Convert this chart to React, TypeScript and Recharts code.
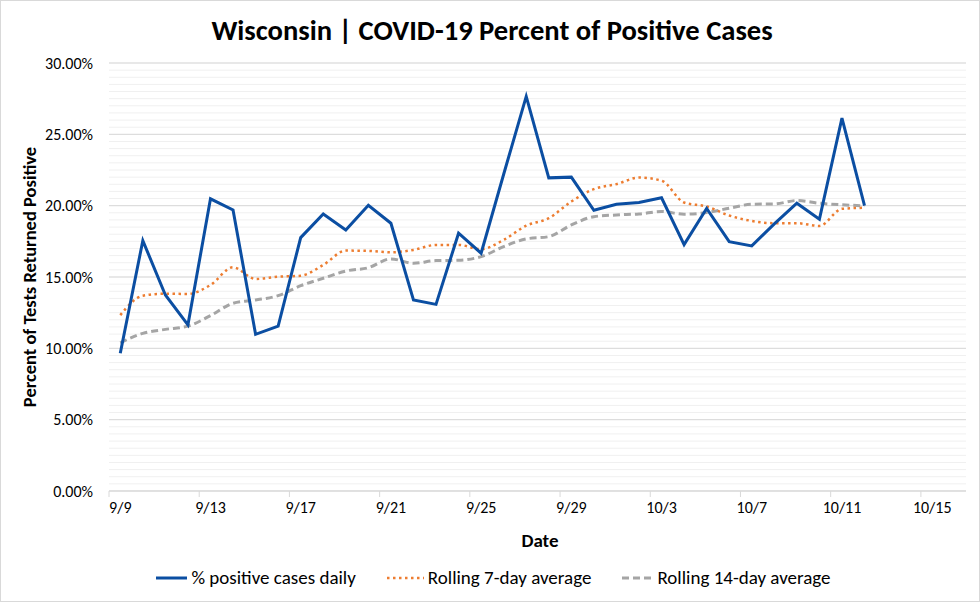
import { LineChart, Line, XAxis, YAxis, CartesianGrid, Legend, Label } from "recharts";

// one entry per day, 9/9 .. 10/12
const dates = [
  "9/9", "9/10", "9/11", "9/12", "9/13", "9/14", "9/15", "9/16", "9/17", "9/18",
  "9/19", "9/20", "9/21", "9/22", "9/23", "9/24", "9/25", "9/26", "9/27", "9/28",
  "9/29", "9/30", "10/1", "10/2", "10/3", "10/4", "10/5", "10/6", "10/7", "10/8",
  "10/9", "10/10", "10/11", "10/12",
];

const dailyPct = [
  9.65, 17.55, 13.74, 11.65, 20.48, 19.7, 10.98, 11.56, 17.76, 19.42,
  18.3, 20.03, 18.77, 13.39, 13.08, 18.07, 16.67, 22.2, 27.66, 21.95,
  22.0, 19.68, 20.1, 20.22, 20.55, 17.27, 19.8, 17.48, 17.18, 18.72,
  20.17, 19.05, 26.14, 20.0,
];

const rolling7 = [
  12.33, 13.69, 13.83, 13.81, 14.44, 15.68, 14.86, 15.02, 15.09, 15.84,
  16.85, 16.83, 16.73, 16.9, 17.25, 17.25, 16.95, 17.6, 18.6, 19.12,
  20.29, 21.16, 21.51, 21.97, 21.75, 20.22, 19.94, 19.31, 18.93, 18.77,
  18.77, 18.58, 19.78, 19.85,
];

const rolling14 = [
  10.39, 11.05, 11.33, 11.56, 12.29, 13.16, 13.39, 13.69, 14.39, 14.91,
  15.42, 15.65, 16.27, 15.96, 16.15, 16.17, 16.43, 17.13, 17.67, 17.83,
  18.65, 19.23, 19.35, 19.42, 19.59, 19.4, 19.52, 19.82, 20.1, 20.12,
  20.36, 20.17, 20.06, 19.99,
];

// date axis: day offsets from 9/9 and their labels
const xTickDays = [0, 4, 8, 12, 16, 20, 24, 28, 32, 36];
const xTickLabels = ["9/9", "9/13", "9/17", "9/21", "9/25", "9/29", "10/3", "10/7", "10/11", "10/15"];
const yTicks = [0, 5, 10, 15, 20, 25, 30];

const FONT = "Carlito, Lato, 'Open Sans', sans-serif";
const BLUE = "#0b4ea2";
const ORANGE = "#ed7d31";
const GRAY = "#a5a5a5";

// points sit in the middle of each day slot
const data = dates.map((d, i) => ({
  x: i + 0.5,
  date: d,
  daily: dailyPct[i],
  r7: rolling7[i],
  r14: rolling14[i],
}));

const minorGrid: number[] = [];
for (let v = 0; v <= 30; v += 0.5) minorGrid.push(v);

const legendItems = [
  { label: "% positive cases daily", color: BLUE, dash: undefined, width: 3, len: 31 },
  { label: "Rolling 7-day average", color: ORANGE, dash: "2.5 3.5", width: 2.5, len: 37 },
  { label: "Rolling 14-day average", color: GRAY, dash: "7 4", width: 3, len: 31 },
];

function LegendContent() {
  return (
    <div style={{ display: "flex", justifyContent: "center", gap: 30, fontFamily: FONT, fontSize: 19, color: "#000", paddingLeft: 6 }}>
      {legendItems.map((it) => (
        <div key={it.label} style={{ display: "flex", alignItems: "center" }}>
          <svg width={it.len + 2} height={10} style={{ marginRight: 3 }}>
            <line x1={1} y1={5} x2={it.len + 1} y2={5} stroke={it.color} strokeWidth={it.width} strokeDasharray={it.dash} />
          </svg>
          <span>{it.label}</span>
        </div>
      ))}
    </div>
  );
}

export default function App() {
  return (
    <div
      style={{
        position: "absolute",
        left: 0,
        top: 0,
        width: 980,
        height: 602,
        boxSizing: "border-box",
        border: "1px solid #d9d9d9",
        background: "#fff",
        fontFamily: FONT,
      }}
    >
      <div
        style={{
          position: "absolute",
          top: 12,
          left: 0,
          width: 978,
          textAlign: "center",
          fontSize: 28.6,
          fontWeight: 700,
          color: "#000",
          paddingLeft: 2,
        }}
      >
        Wisconsin | COVID-19 Percent of Positive Cases
      </div>
      <LineChart
        width={978}
        height={600}
        data={data}
        margin={{ top: 62, right: 13, bottom: 0, left: 0 }}
        style={{ position: "absolute", left: 0, top: 0 }}
      >
        <CartesianGrid vertical={false} horizontalValues={minorGrid} stroke="#f0f0f0" />
        <CartesianGrid vertical={false} horizontalValues={yTicks} stroke="#d9d9d9" />
        <XAxis
          dataKey="x"
          type="number"
          domain={[0, 38]}
          ticks={xTickDays}
          tickFormatter={(v) => xTickLabels[xTickDays.indexOf(v)] ?? ""}
          height={110}
          axisLine={{ stroke: "#d9d9d9" }}
          tickLine={{ stroke: "#d9d9d9" }}
          tickSize={6}
          tick={{ fontSize: 16, fill: "#000", fontFamily: FONT, dy: 3, dx: 11.3 }}
        >
          <Label
            content={() => (
              <text x={539} y={539} textAnchor="middle" dominantBaseline="central" fontFamily={FONT} fontSize={19} fontWeight={700} fill="#000">
                Date
              </text>
            )}
          />
        </XAxis>
        <YAxis
          type="number"
          domain={[0, 30]}
          ticks={yTicks}
          interval={0}
          width={108}
          axisLine={false}
          tickLine={false}
          tickMargin={10}
          tickFormatter={(v) => `${Number(v).toFixed(2)}%`}
          tick={{ fontSize: 16, fill: "#000", fontFamily: FONT }}
        >
          <Label
            content={() => (
              <text
                x={28}
                y={276}
                transform="rotate(-90 28 276)"
                textAnchor="middle"
                dominantBaseline="central"
                fontFamily={FONT}
                fontSize={18.5}
                fontWeight={700}
                fill="#000"
              >
                Percent of Tests Returned Positive
              </text>
            )}
          />
        </YAxis>
        <Legend
          verticalAlign="middle"
          align="center"
          layout="horizontal"
          content={<LegendContent />}
          wrapperStyle={{ position: "absolute", top: 565, left: 0, width: 978 }}
        />
        <Line
          dataKey="r14"
          type="monotone"
          stroke={GRAY}
          strokeWidth={3}
          strokeDasharray="7 4"
          dot={false}
          isAnimationActive={false}
        />
        <Line
          dataKey="r7"
          type="monotone"
          stroke={ORANGE}
          strokeWidth={2.5}
          strokeDasharray="2.5 3.5"
          dot={false}
          isAnimationActive={false}
        />
        <Line
          dataKey="daily"
          type="linear"
          stroke={BLUE}
          strokeWidth={3}
          dot={false}
          isAnimationActive={false}
        />
      </LineChart>
    </div>
  );
}
